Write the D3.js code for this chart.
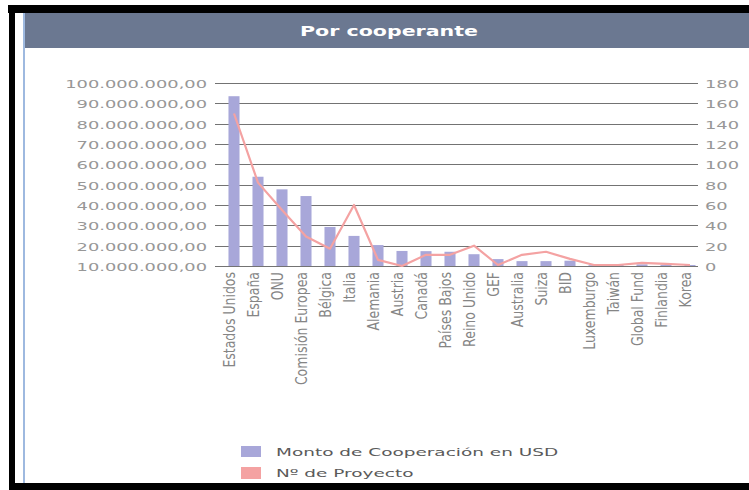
<!DOCTYPE html>
<html>
<head>
<meta charset="utf-8">
<script src="https://cdn.jsdelivr.net/npm/d3@7"></script>
<style>
  html, body { margin: 0; padding: 0; background: #fff; }
  svg { display: block; }
</style>
</head>
<body>
<svg id="chart" width="749" height="490"></svg>
<script>
// ---- data ----
const title = "Por cooperante";
const categories = ["Estados Unidos","España","ONU","Comisión Europea","Bélgica","Italia","Alemania","Austria","Canadá","Países Bajos","Reino Unido","GEF","Australia","Suiza","BID","Luxemburgo","Taiwán","Global Fund","Finlandia","Korea"];
const montoUSD = [93500000, 53900000, 47700000, 44400000, 29200000, 24800000, 20300000, 17400000, 17300000, 17000000, 15800000, 13400000, 12400000, 12400000, 12600000, 10400000, 10700000, 10800000, 10600000, 10500000];
const proyectos = [150, 82, 55, 29, 17, 60, 6, 0, 11, 11, 20, 1, 11, 14, 7, 1, 1, 3, 2, 1];
const leftTicks = [10000000, 20000000, 30000000, 40000000, 50000000, 60000000, 70000000, 80000000, 90000000, 100000000];
const rightTicks = [0, 20, 40, 60, 80, 100, 120, 140, 160, 180];
const seriesNames = ["Monto de Cooperación en USD", "Nº de Proyecto"];

// ---- styles ----
const barColor = "#a8a7d9";
const lineColor = "#f4a2a2";
const gridColor = "#737373";
const labelColor = "#979797";
const stretch = 1.7;

const svg = d3.select("#chart");
const esLocale = d3.formatLocale({decimal: ",", thousands: ".", grouping: [3], currency: ["", ""]});
const fmtLeft = esLocale.format(",.2f");

// frame
svg.append("rect").attr("x", 8).attr("y", 5).attr("width", 741).attr("height", 8).attr("fill", "#000");
svg.append("rect").attr("x", 9).attr("y", 5).attr("width", 6).attr("height", 485).attr("fill", "#000");
svg.append("rect").attr("x", 9).attr("y", 483).attr("width", 740).attr("height", 7).attr("fill", "#000");
// header
svg.append("rect").attr("x", 25).attr("y", 13).attr("width", 724).attr("height", 35).attr("fill", "#6b7891");
svg.append("line").attr("x1", 24).attr("x2", 24).attr("y1", 13).attr("y2", 483)
  .attr("stroke", "#86a8d8").attr("stroke-width", 1.6);
svg.append("g").attr("transform", "translate(389,31) scale(1.47,1)")
  .append("text").attr("text-anchor", "middle").attr("dominant-baseline", "central")
  .attr("font-family", "DejaVu Sans").attr("font-weight", "bold").attr("font-size", 14)
  .attr("fill", "#fff").text(title);

// scales
const x = d3.scaleBand().domain(categories).range([222, 702]).paddingInner(0.54).paddingOuter(0.27);
const yL = d3.scaleLinear().domain([10000000, 100000000]).range([266, 83]);
const yR = d3.scaleLinear().domain([0, 180]).range([266, 83]);
const gridX1 = 215, gridX2 = 698;

// gridlines
svg.append("g").selectAll("line").data(leftTicks).join("line")
  .attr("x1", gridX1).attr("x2", gridX2)
  .attr("y1", d => Math.round(yL(d)) + 0.5).attr("y2", d => Math.round(yL(d)) + 0.5)
  .attr("stroke", gridColor).attr("stroke-width", 1);

// left labels
svg.append("g").selectAll("g").data(leftTicks).join("g")
  .attr("transform", d => `translate(207,${yL(d) + 1}) scale(${stretch},1)`)
  .append("text").attr("text-anchor", "end").attr("dominant-baseline", "central")
  .attr("font-family", "DejaVu Sans").attr("font-size", 10.5).attr("fill", labelColor)
  .text(d => fmtLeft(d));

// right labels
svg.append("g").selectAll("g").data(rightTicks).join("g")
  .attr("transform", d => `translate(705,${yR(d) + 1}) scale(${stretch},1)`)
  .append("text").attr("text-anchor", "start").attr("dominant-baseline", "central")
  .attr("font-family", "DejaVu Sans").attr("font-size", 10.5).attr("fill", labelColor)
  .text(d => d);

// bars
svg.append("g").selectAll("rect").data(categories).join("rect")
  .attr("x", d => x(d)).attr("width", x.bandwidth())
  .attr("y", (d, i) => yL(montoUSD[i]))
  .attr("height", (d, i) => yL(10000000) - yL(montoUSD[i]))
  .attr("fill", barColor);

// line
const line = d3.line()
  .x((d, i) => x(categories[i]) + x.bandwidth() / 2)
  .y(d => yR(d));
svg.append("path").datum(proyectos).attr("d", line)
  .attr("fill", "none").attr("stroke", lineColor).attr("stroke-width", 2.2)
  .attr("stroke-linejoin", "round");

// x labels
svg.append("g").selectAll("g").data(categories).join("g")
  .attr("transform", d => `translate(${x(d) + x.bandwidth() / 2 + 1},272) rotate(-90) scale(1,1.2)`)
  .append("text").attr("text-anchor", "end")
  .attr("font-family", "DejaVu Sans").attr("font-size", 12.5).attr("fill", "#858585")
  .text(d => d);

// legend
const legend = svg.append("g");
const legendColors = [barColor, lineColor];
const legendRows = [{sy: 446, sh: 11, ty: 455.5}, {sy: 467, sh: 12, ty: 476.5}];
legend.selectAll("rect").data(seriesNames).join("rect")
  .attr("x", 241).attr("y", (d, i) => legendRows[i].sy)
  .attr("width", 20).attr("height", (d, i) => legendRows[i].sh)
  .attr("fill", (d, i) => legendColors[i]);
legend.selectAll("g").data(seriesNames).join("g")
  .attr("transform", (d, i) => `translate(276,${legendRows[i].ty}) scale(1.68,1)`)
  .append("text").attr("font-family", "DejaVu Sans").attr("font-size", 11)
  .attr("fill", "#5a5a5a").text(d => d);
</script>
</body>
</html>
